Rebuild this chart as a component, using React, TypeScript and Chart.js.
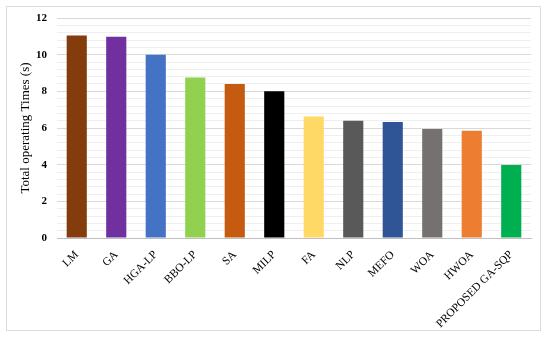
import React, { useEffect, useRef } from "react";
import { Chart, registerables } from "chart.js";

Chart.register(...registerables);

const categories = ["LM", "GA", "HGA-LP", "BBO-LP", "SA", "MILP", "FA", "NLP", "MEFO", "WOA", "HWOA", "PROPOSED GA-SQP"];
const times = [11.05, 10.98, 10.0, 8.75, 8.4, 8.0, 6.63, 6.4, 6.33, 5.95, 5.85, 3.98];
const barColors = ["#843C0C", "#7030A0", "#4472C4", "#92D050", "#C55A11", "#000000", "#FFD966", "#595959", "#2F5597", "#767171", "#ED7D31", "#00B050"];
const yTitle = "Total operating Times (s)";

const SERIF = "'Palatino Linotype', 'Liberation Serif', 'DejaVu Serif', serif";

export default function App() {
  const ref = useRef<HTMLCanvasElement>(null);
  useEffect(() => {
    document.body.style.margin = "0";
    const ctx = ref.current!.getContext("2d")!;
    const chart = new Chart(ctx, {
      type: "bar",
      data: {
        labels: categories,
        datasets: [
          {
            data: times,
            backgroundColor: barColors,
            borderWidth: 0,
            barPercentage: 0.51,
            categoryPercentage: 1,
          },
        ],
      },
      options: {
        animation: false,
        responsive: false,
        maintainAspectRatio: false,
        layout: { padding: { left: 18, top: 18, right: 19, bottom: 0 } },
        plugins: { legend: { display: false }, tooltip: { enabled: false } },
        scales: {
          x: {
            grid: { display: false },
            border: { display: true, color: "#bfbfbf", width: 1 },
            ticks: {
              color: "#000",
              font: { family: SERIF, size: 11.5 },
              minRotation: 45,
              maxRotation: 45,
              autoSkip: false,
              padding: 2,
            },
            afterFit: (s: any) => {
              s.height = 101;
            },
          },
          y: {
            min: 0,
            max: 12,
            border: { display: false },
            grid: {
              color: (c: any) => {
                const v = c.tick ? c.tick.value : 0;
                if (Math.abs(v) < 1e-6) return "rgba(0,0,0,0)";
                const isMajor = Math.abs(v / 2 - Math.round(v / 2)) < 1e-6;
                return isMajor ? "#d9d9d9" : "#efefef";
              },
              drawTicks: false,
            },
            ticks: {
              stepSize: 0.4,
              maxTicksLimit: 100,
              autoSkip: false,
              color: "#000",
              padding: 10,
              font: { family: SERIF, size: 11, weight: "bold" },
              callback: (v: any) => {
                const n = Number(v);
                return Math.abs(n / 2 - Math.round(n / 2)) < 1e-6 ? String(Math.round(n)) : "";
              },
            },
            title: {
              display: true,
              text: yTitle,
              color: "#000",
              font: { family: SERIF, size: 13 },
              padding: 0,
            },
            afterFit: (s: any) => {
              s.width = 39;
            },
          },
        },
      },
    });
    return () => chart.destroy();
  }, []);
  return (
    <div style={{ position: "relative", width: 550, height: 339 }}>
      <div
        style={{
          position: "absolute",
          left: 6,
          top: 6,
          width: 535,
          height: 325,
          border: "1px solid #dcdcdc",
          boxSizing: "border-box",
        }}
      />
      <canvas ref={ref} width={550} height={339} style={{ position: "absolute", left: 0, top: 0 }} />
    </div>
  );
}
